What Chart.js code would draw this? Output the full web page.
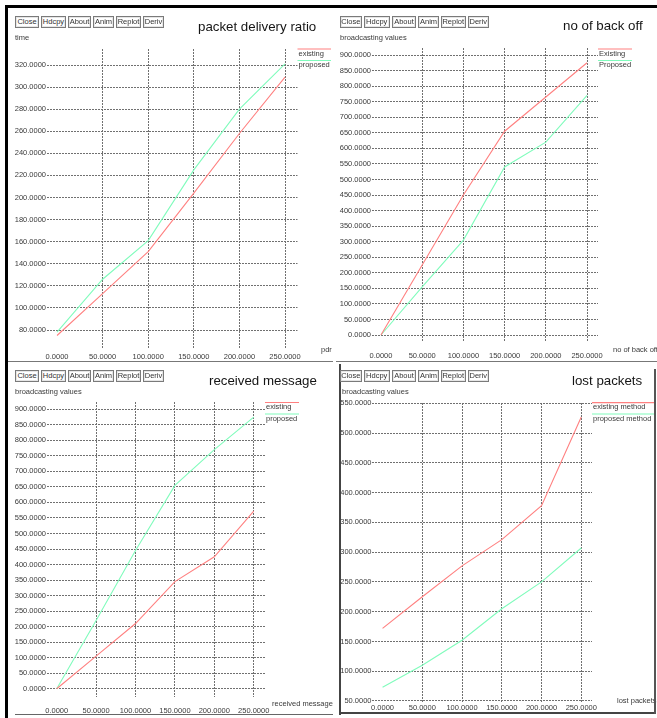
<!DOCTYPE html>
<html>
<head>
<meta charset="utf-8">
<script src="https://cdn.jsdelivr.net/npm/chart.js@4.4.1/dist/chart.umd.min.js"></script>
<style>
  html, body { margin: 0; padding: 0; background: #fff; }
  #page { position: relative; width: 657px; height: 718px; overflow: hidden; background: #fff;
          font-family: "Liberation Sans", Arial, sans-serif; }
  #page canvas { position: absolute; left: 0; top: 0; }
  .rule { position: absolute; }
  .btn { position: absolute; height: 12px; box-sizing: border-box; border: 1px solid #7a7a7a;
         box-shadow: inset 0 0 0 1px #e6e6e6; font-size: 7.5px; line-height: 10px; text-align: center;
         color: #333; background: #fff; white-space: nowrap; overflow: hidden; }
</style>
</head>
<body>
<div id="page">
  <canvas id="c1" width="657" height="750"></canvas>
  <canvas id="c2" width="657" height="750"></canvas>
  <canvas id="c3" width="657" height="750"></canvas>
  <canvas id="c4" width="657" height="750"></canvas>
</div>
<script>
// ---- data -------------------------------------------------------------
const xValues = [0, 50, 100, 150, 200, 250];
const xTicks = [0, 50, 100, 150, 200, 250];

const pdrExisting = [75, 113, 151, 204, 258, 309];
const pdrProposed = [78, 126, 161, 225, 280, 321];
const pdrTicks = [80, 100, 120, 140, 160, 180, 200, 220, 240, 260, 280, 300, 320];

const backoffExisting = [0, 225, 450, 655, 765, 875];
const backoffProposed = [0, 155, 305, 540, 620, 770];
const backoffTicks = [0, 50, 100, 150, 200, 250, 300, 350, 400, 450, 500, 550, 600, 650, 700, 750, 800, 850, 900];

const receivedExisting = [0, 105, 210, 345, 425, 572];
const receivedProposed = [0, 220, 445, 655, 770, 875];
const receivedTicks = [0, 50, 100, 150, 200, 250, 300, 350, 400, 450, 500, 550, 600, 650, 700, 750, 800, 850, 900];

const lostExisting = [172, 225, 277, 321, 378, 527];
const lostProposed = [73, 110, 152, 205, 250, 307];
const lostTicks = [50, 100, 150, 200, 250, 300, 350, 400, 450, 500, 550];

const buttonLabels = ['Close', 'Hdcpy', 'About', 'Anim', 'Replot', 'Deriv'];

// ---- styling ----------------------------------------------------------
const RED = '#ff8080';
const GREEN = '#80fcbc';
const GRID = '#707070';
const TICK_TEXT = '#3a3a3a';
const FONT = '"Liberation Sans", Arial, sans-serif';
const CANVAS_W = 657, CANVAS_H = 750;
const Y_W = 40, X_H = 24;

// ---- the four xgraph windows ------------------------------------------
const panels = [
  { canvas: 'c1', series: [pdrExisting, pdrProposed], names: ['existing', 'proposed'], yTicks: pdrTicks,
    title: 'packet delivery ratio', yCaption: 'time', xCaption: 'pdr',
    area: { l: 47, r: 297.5, t: 49, b: 348 }, xRange: [-11, 263.7], yRange: [63.7, 334.5],
    yPad: 1, xPad: 4, titleAt: [198, 31], yCapAt: [15, 40], xCapAt: [321, 352],
    legendY: [49, 60.5], legendEnd: 331 },
  { canvas: 'c2', series: [backoffExisting, backoffProposed], names: ['Existing', 'Proposed'], yTicks: backoffTicks,
    title: 'no of back off', yCaption: 'broadcasting values', xCaption: 'no of back off',
    area: { l: 372, r: 598, t: 48, b: 342 }, xRange: [-10.9, 263.3], yRange: [-22.5, 922.5],
    yPad: 1, xPad: 9, titleAt: [563, 30], yCapAt: [340, 39.5], xCapAt: [613, 352],
    legendY: [49, 60.5], legendEnd: 632 },
  { canvas: 'c3', series: [receivedExisting, receivedProposed], names: ['existing', 'proposed'], yTicks: receivedTicks,
    title: 'received message', yCaption: 'broadcasting values', xCaption: 'received message',
    area: { l: 47, r: 265, t: 402, b: 697 }, xRange: [-12.3, 264.3], yRange: [-26.7, 923.5],
    yPad: 1, xPad: 9, titleAt: [209, 385], yCapAt: [15, 394], xCapAt: [272, 705.5],
    legendY: [402.5, 414], legendEnd: 299 },
  { canvas: 'c4', series: [lostExisting, lostProposed], names: ['existing method', 'proposed method'], yTicks: lostTicks,
    title: 'lost packets', yCaption: 'broadcasting values', xCaption: 'lost packets',
    area: { l: 372, r: 592, t: 403, b: 703 }, xRange: [-13.3, 263.5], yRange: [46.6, 550.5],
    yPad: 0.5, xPad: 0.5, titleAt: [572, 385], yCapAt: [342, 394], xCapAt: [617, 703],
    legendY: [402.7, 414], legendEnd: 655 }
];

// Title, axis captions and the legend strip at the right of the plot area.
const xgraphText = {
  id: 'xgraphText',
  afterDraw(chart, args, opts) {
    const ctx = chart.ctx;
    const a = chart.chartArea;
    ctx.save();
    ctx.textAlign = 'left';
    ctx.textBaseline = 'alphabetic';
    ctx.fillStyle = '#151515';
    ctx.font = '13.3px ' + FONT;
    ctx.fillText(opts.title, opts.titleAt[0], opts.titleAt[1]);
    ctx.fillStyle = TICK_TEXT;
    ctx.font = '7.5px ' + FONT;
    ctx.fillText(opts.yCaption, opts.yCapAt[0], opts.yCapAt[1]);
    ctx.fillText(opts.xCaption, opts.xCapAt[0], opts.xCapAt[1]);
    chart.data.datasets.forEach((ds, i) => {
      const ly = opts.legendY[i];
      ctx.strokeStyle = ds.borderColor;
      ctx.lineWidth = 1.2;
      ctx.beginPath();
      ctx.moveTo(a.right, ly);
      ctx.lineTo(opts.legendEnd, ly);
      ctx.stroke();
      ctx.fillStyle = TICK_TEXT;
      ctx.fillText(ds.label, a.right + 1, ly + 6.5);
    });
    ctx.restore();
  }
};

function buildChart(p) {
  const tickFont = { family: FONT, size: 7.5 };
  return new Chart(document.getElementById(p.canvas), {
    type: 'line',
    data: {
      datasets: p.series.map((vals, i) => ({
        label: p.names[i],
        data: xValues.map((x, k) => ({ x: x, y: vals[k] })),
        borderColor: i === 0 ? RED : GREEN,
        borderWidth: 1.1,
        pointRadius: 0,
        tension: 0,
        fill: false
      }))
    },
    options: {
      responsive: false,
      animation: false,
      events: [],
      devicePixelRatio: 1,
      layout: { padding: { left: p.area.l - Y_W, top: p.area.t, right: CANVAS_W - p.area.r, bottom: CANVAS_H - p.area.b - X_H } },
      plugins: {
        legend: { display: false },
        title: { display: false },
        tooltip: { enabled: false },
        xgraphText: p
      },
      scales: {
        x: {
          type: 'linear', bounds: 'data', min: p.xRange[0], max: p.xRange[1],
          afterFit: s => { s.height = X_H; },
          afterBuildTicks: s => { s.ticks = xTicks.map(v => ({ value: v })); },
          grid: { color: c => (c.tick && c.tick.value === 0) ? 'rgba(0,0,0,0)' : GRID, lineWidth: 1, drawTicks: false },
          border: { display: false, dash: [2, 1] },
          ticks: { padding: p.xPad, font: tickFont, color: TICK_TEXT, maxRotation: 0, autoSkip: false,
                   callback: v => Number(v).toFixed(4) }
        },
        y: {
          type: 'linear', bounds: 'data', min: p.yRange[0], max: p.yRange[1],
          afterFit: s => { s.width = Y_W; },
          afterBuildTicks: s => { s.ticks = p.yTicks.map(v => ({ value: v })); },
          grid: { color: GRID, lineWidth: 1, drawTicks: false },
          border: { display: false, dash: [2, 1] },
          ticks: { padding: p.yPad, font: tickFont, color: TICK_TEXT, autoSkip: false,
                   callback: v => Number(v).toFixed(4) }
        }
      }
    },
    plugins: [xgraphText]
  });
}

panels.forEach(buildChart);

// ---- window frames and button rows ------------------------------------
const page = document.getElementById('page');
function rule(l, t, w, h, color) {
  const d = document.createElement('div');
  d.className = 'rule';
  d.style.cssText = `left:${l}px;top:${t}px;width:${w}px;height:${h}px;background:${color};`;
  page.appendChild(d);
}
rule(5, 5, 652, 3, '#000');          // top frame
rule(5, 5, 3, 713, '#000');          // left frame
rule(8, 361, 325, 1, '#777');        // divider under left upper window
rule(336, 361, 321, 1, '#777');      // divider under right upper window
rule(15, 714, 318, 1, '#666');       // base of lower left window
rule(339, 364, 2, 351, '#444');      // lower right window: left edge
rule(339, 712, 317, 2, '#444');      // lower right window: bottom edge
rule(654, 369, 1.5, 345, '#555');    // lower right window: right edge

const buttonRowsLeft = [[15, 39], [41, 66], [68, 91], [93, 114], [116, 141], [143, 164]];
const buttonRowsRight = [[339.5, 362], [364, 389.5], [392, 416], [418, 439], [440.5, 466], [467.5, 489]];
function buttonRow(spans, top) {
  spans.forEach((s, i) => {
    const b = document.createElement('div');
    b.className = 'btn';
    b.textContent = buttonLabels[i];
    b.style.left = s[0] + 'px';
    b.style.width = (s[1] - s[0]) + 'px';
    b.style.top = top + 'px';
    page.appendChild(b);
  });
}
buttonRow(buttonRowsLeft, 15.5);
buttonRow(buttonRowsRight, 15.5);
buttonRow(buttonRowsLeft, 370);
buttonRow(buttonRowsRight, 370);
</script>
</body>
</html>
